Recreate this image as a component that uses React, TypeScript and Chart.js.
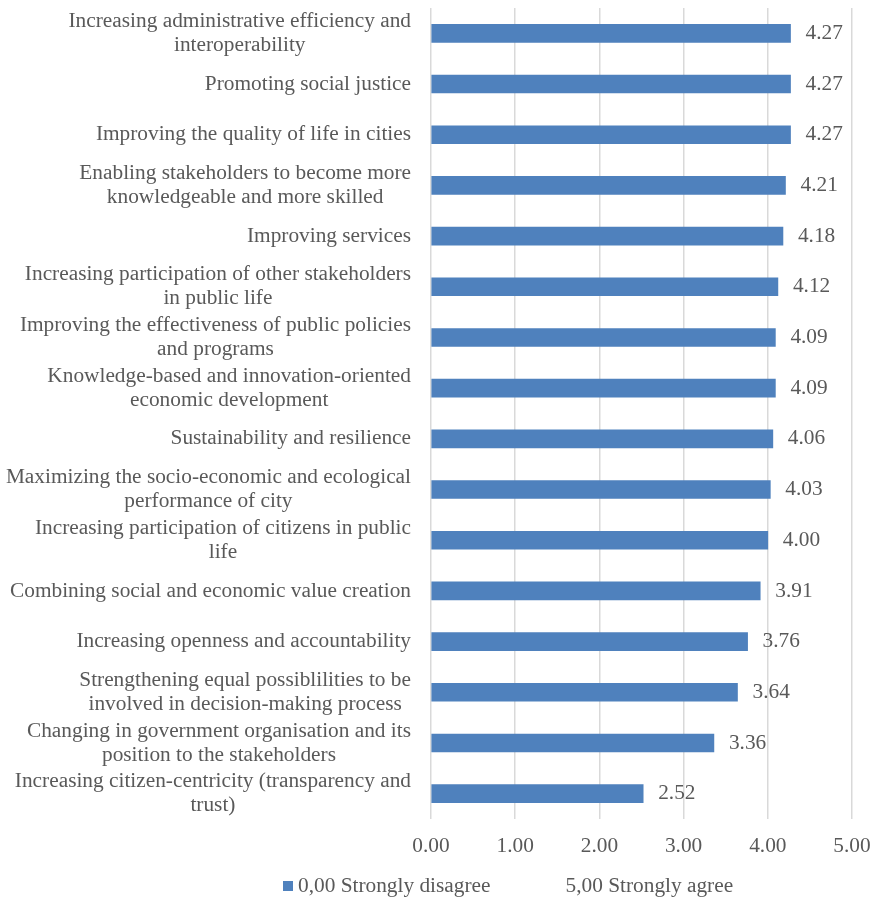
import React, { useEffect, useRef } from "react";
import { Chart, registerables } from "chart.js";

Chart.register(...registerables);

const categoryLines: string[][] = [
  ["Increasing administrative efficiency and", "interoperability"],
  ["Promoting social justice"],
  ["Improving the quality of life in cities"],
  ["Enabling stakeholders to become more", "knowledgeable and more skilled"],
  ["Improving services"],
  ["Increasing participation of other stakeholders", "in public life"],
  ["Improving the effectiveness of public policies", "and programs"],
  ["Knowledge-based and innovation-oriented", "economic development"],
  ["Sustainability and resilience"],
  ["Maximizing the socio-economic and ecological", "performance of city"],
  ["Increasing participation of citizens in public", "life"],
  ["Combining social and economic value creation"],
  ["Increasing openness and accountability"],
  ["Strengthening equal possiblilities to be", "involved in decision-making process"],
  ["Changing in government organisation and its", "position to the stakeholders"],
  ["Increasing citizen-centricity (transparency and", "trust)"],
];

const values: number[] = [
  4.27, 4.27, 4.27, 4.21, 4.18, 4.12, 4.09, 4.09, 4.06, 4.03, 4.0, 3.91, 3.76,
  3.64, 3.36, 2.52,
];

const legendLabels: string[] = ["0,00 Strongly disagree", "5,00 Strongly agree"];
const xMin = 0;
const xMax = 5;
const xStep = 1;

const FONT_FAMILY = '"Liberation Serif", "Times New Roman", serif';
const FONT_SIZE = 21.33;
const TEXT_COLOR = "#595959";
const BAR_COLOR = "#4f81bd";
const LINE_HEIGHT = 24;

const overlayPlugin = {
  id: "overlay",
  afterDraw(chart: any) {
    const ctx = chart.ctx;
    const area = chart.chartArea;
    const yScale = chart.scales.y;
    ctx.save();
    ctx.font = `${FONT_SIZE}px ${FONT_FAMILY}`;
    ctx.fillStyle = TEXT_COLOR;
    ctx.textBaseline = "middle";

    // category labels: block right aligned, lines centered
    ctx.textAlign = "center";
    categoryLines.forEach((lines, i) => {
      const cy = yScale.getPixelForValue(i);
      const w = Math.max(...lines.map((l) => ctx.measureText(l).width));
      const cx = area.left - 20 - w / 2;
      lines.forEach((l, j) => {
        ctx.fillText(l, cx, cy + (j - (lines.length - 1) / 2) * LINE_HEIGHT);
      });
    });

    // data labels
    ctx.textAlign = "left";
    const meta = chart.getDatasetMeta(0);
    meta.data.forEach((bar: any, i: number) => {
      ctx.fillText(values[i].toFixed(2), bar.x + 15, bar.y);
    });

    // legend
    const ly = chart.height - 15;
    let lx = 283;
    ctx.fillStyle = BAR_COLOR;
    ctx.fillRect(lx, ly - 5, 10, 10);
    ctx.fillStyle = TEXT_COLOR;
    ctx.fillText(legendLabels[0], lx + 15, ly);
    lx = lx + 15 + ctx.measureText(legendLabels[0]).width + 60;
    ctx.fillStyle = "#ffffff";
    ctx.fillRect(lx, ly - 5, 10, 10);
    ctx.fillStyle = TEXT_COLOR;
    ctx.fillText(legendLabels[1], lx + 15, ly);
    ctx.restore();
  },
};

export default function App() {
  const ref = useRef<HTMLCanvasElement>(null);
  useEffect(() => {
    if (!ref.current) return;
    const chart = new Chart(ref.current, {
      type: "bar",
      data: {
        labels: categoryLines,
        datasets: [
          {
            label: legendLabels[0],
            data: values,
            backgroundColor: BAR_COLOR,
            borderWidth: 0,
            barThickness: 18,
          },
        ],
      },
      options: {
        indexAxis: "y",
        animation: false,
        responsive: false,
        devicePixelRatio: 1,
        layout: { padding: { top: 8, right: 22, bottom: 42, left: 0 } },
        plugins: {
          legend: { display: false },
          tooltip: { enabled: false },
        },
        scales: {
          x: {
            min: xMin,
            max: xMax,
            border: { display: false },
            grid: { color: "#d9d9d9", lineWidth: 1.5, drawTicks: false },
            ticks: {
              stepSize: xStep,
              padding: 15,
              color: TEXT_COLOR,
              font: { family: FONT_FAMILY, size: FONT_SIZE },
              callback: (v: any) => Number(v).toFixed(2),
            },
            afterFit: (s: any) => {
              s.height = 40;
              s.paddingRight = 0;
              s.paddingLeft = 0;
            },
          },
          y: {
            border: { display: false },
            grid: { display: false },
            ticks: { display: false },
            afterFit: (s: any) => {
              s.width = 431;
              s.paddingTop = 0;
              s.paddingBottom = 0;
            },
          },
        },
      },
      plugins: [overlayPlugin],
    });
    return () => chart.destroy();
  }, []);
  return (
    <div
      style={{
        position: "fixed",
        left: 0,
        top: 0,
        width: 874,
        height: 901,
        background: "#ffffff",
      }}
    >
      <canvas ref={ref} width={874} height={901} />
    </div>
  );
}
